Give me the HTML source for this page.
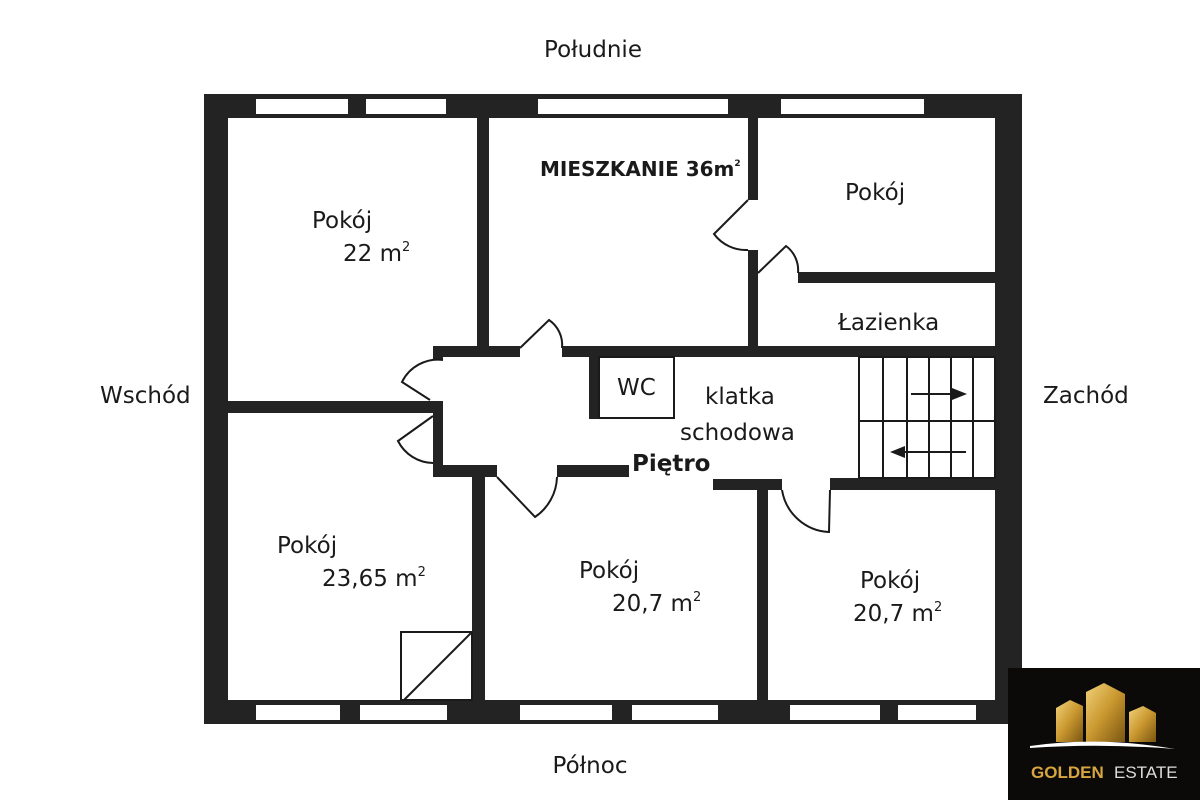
<!DOCTYPE html>
<html><head><meta charset="utf-8"><style>
body{margin:0;background:#fff;width:1200px;height:800px;overflow:hidden}
svg text{font-family:"DejaVu Sans","Liberation Sans",sans-serif;fill:#1a1a1a}
</style></head><body>
<svg width="1200" height="800" viewBox="0 0 1200 800" xmlns="http://www.w3.org/2000/svg">
<defs>
<linearGradient id="g" x1="0" y1="0" x2="1" y2="1"><stop offset="0" stop-color="#f3d27a"/><stop offset="0.5" stop-color="#c9972f"/><stop offset="1" stop-color="#7a5512"/></linearGradient>
</defs>
<g fill="#232323">
<rect x="204" y="94" width="818" height="24"/>
<rect x="204" y="700" width="818" height="24"/>
<rect x="204" y="94" width="24" height="630"/>
<rect x="995" y="94" width="27" height="630"/>
<rect x="477" y="118" width="12" height="232"/>
<rect x="433" y="346" width="87" height="11"/>
<rect x="562" y="346" width="433" height="11"/>
<rect x="433" y="346" width="10" height="14"/>
<rect x="228" y="401" width="215" height="12"/>
<rect x="433" y="401" width="10" height="76"/>
<rect x="433" y="465" width="64" height="12"/>
<rect x="557" y="465" width="72" height="12"/>
<rect x="472" y="465" width="13" height="235"/>
<rect x="713" y="479" width="69" height="11"/>
<rect x="757" y="479" width="11" height="221"/>
<rect x="830" y="478" width="165" height="12"/>
<rect x="589" y="357" width="10" height="62"/>
<rect x="748" y="118" width="10" height="82"/>
<rect x="748" y="250" width="10" height="98"/>
<rect x="798" y="272" width="197" height="11"/>
</g>
<g fill="#fff">
<rect x="256" y="99" width="92" height="15"/><rect x="366" y="99" width="80" height="15"/>
<rect x="538" y="99" width="190" height="15"/><rect x="781" y="99" width="143" height="15"/>
<rect x="256" y="705" width="84" height="15"/><rect x="360" y="705" width="87" height="15"/>
<rect x="520" y="705" width="92" height="15"/><rect x="632" y="705" width="86" height="15"/>
<rect x="790" y="705" width="90" height="15"/><rect x="898" y="705" width="78" height="15"/>
</g>
<g fill="none" stroke="#1a1a1a" stroke-width="2">
<path d="M520 348 L549 320 A30 30 0 0 1 562 348"/>
<path d="M443 360 A40 40 0 0 0 402 382 L430 400"/>
<path d="M433 416 L398 441 A40 40 0 0 0 433 463"/>
<path d="M497 477 L535 517 A50 50 0 0 0 557 477"/>
<path d="M782 490 A50 50 0 0 0 829 532 L830 490"/>
<path d="M748 200 L714 234 A40 40 0 0 0 748 250"/>
<path d="M758 273 L786 246 A30 30 0 0 1 798 273"/>
<rect x="599" y="357" width="75" height="61"/>
<rect x="401" y="632" width="71" height="68"/>
<line x1="404" y1="700" x2="472" y2="632"/>
<rect x="859" y="357" width="136" height="121"/>
<line x1="883" y1="357" x2="883" y2="478"/><line x1="907" y1="357" x2="907" y2="478"/>
<line x1="929" y1="357" x2="929" y2="478"/><line x1="951" y1="357" x2="951" y2="478"/>
<line x1="973" y1="357" x2="973" y2="478"/>
<line x1="859" y1="421" x2="995" y2="421"/>
<line x1="911" y1="394" x2="955" y2="394"/>
<line x1="902" y1="452" x2="966" y2="452"/>
</g>
<path d="M967 394 L952 388 L952 400Z" fill="#1a1a1a"/>
<path d="M890 452 L905 446 L905 458Z" fill="#1a1a1a"/>
<g font-size="23">
<text x="593" y="57" text-anchor="middle">Południe</text>
<text x="100" y="403">Wschód</text>
<text x="1043" y="403">Zachód</text>
<text x="590" y="773" text-anchor="middle">Północ</text>
<text x="312" y="228">Pokój</text>
<text x="343" y="261">22 m<tspan font-size="13" dy="-10">2</tspan></text>
<text x="845" y="200">Pokój</text>
<text x="838" y="330">Łazienka</text>
<text x="617" y="395">WC</text>
<text x="705" y="404">klatka</text>
<text x="680" y="440">schodowa</text>
<text x="277" y="553">Pokój</text>
<text x="322" y="586">23,65 m<tspan font-size="13" dy="-10">2</tspan></text>
<text x="579" y="578">Pokój</text>
<text x="612" y="611">20,7 m<tspan font-size="13" dy="-10">2</tspan></text>
<text x="860" y="588">Pokój</text>
<text x="853" y="621">20,7 m<tspan font-size="13" dy="-10">2</tspan></text>
</g>
<text x="540" y="176" font-size="20" font-weight="bold">MIESZKANIE 36m<tspan font-size="9" dy="-10">2</tspan></text>
<text x="632" y="471" font-size="23" font-weight="bold">Piętro</text>
<rect x="1008" y="668" width="192" height="132" fill="#0b0a09"/>
<g fill="url(#g)">
<polygon points="1056,708 1070,700 1083,706 1083,742 1056,742"/>
<polygon points="1086,692 1104,683 1125,694 1125,742 1086,742"/>
<polygon points="1129,712 1143,706 1156,713 1156,742 1129,742"/>
</g>
<path d="M1030 746 Q1100 736 1175 749 Q1100 743 1030 748Z" fill="#fff"/>
<text x="1031" y="778" font-size="17" font-weight="bold" style="fill:#d7a63f;font-family:'Liberation Sans',sans-serif">GOLDEN</text>
<text x="1114" y="778" font-size="17" style="fill:#ddd;font-family:'Liberation Sans',sans-serif">ESTATE</text>
</svg>
</body></html>
